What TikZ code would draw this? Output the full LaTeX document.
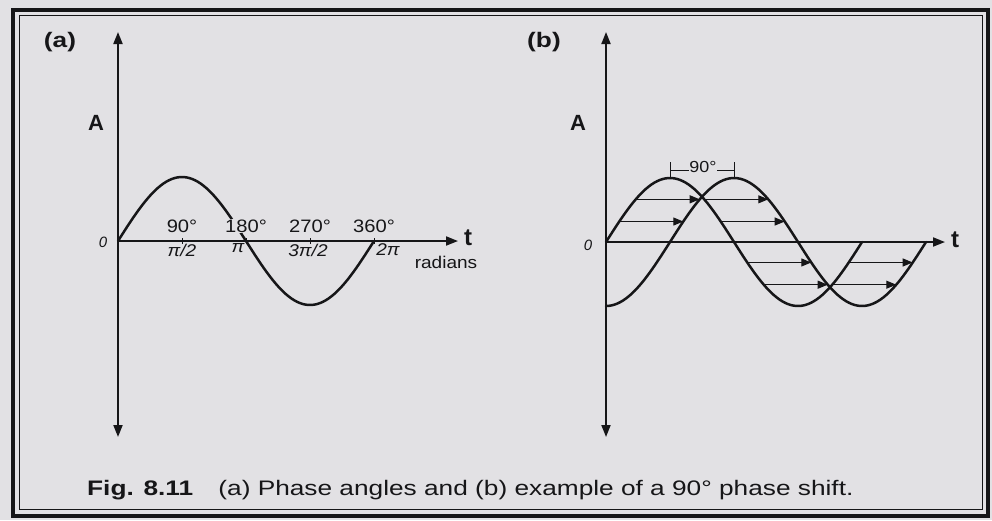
\documentclass[tikz,border=0pt]{standalone}
\usepackage{amsmath}
\usepackage{fontspec}
\setmainfont{Liberation Sans}
\newfontfamily\capfont{Liberation Sans}[FakeStretch=1.25]
\newfontfamily\lblfont{Liberation Sans}[FakeStretch=1.12]
\usepackage{xcolor}
\usetikzlibrary{positioning, arrows.meta}

\definecolor{paper}{RGB}{226,225,228}
\definecolor{ink}{RGB}{22,22,24}

\begin{document}
\begin{tikzpicture}[x=1pt, y=-1pt,
  every node/.style={inner sep=1pt, text=ink},
  axis/.style={ink, line width=1.8pt, -{Triangle[length=12pt, width=9pt]}},
  axisboth/.style={axis, {Triangle[length=12pt, width=9pt]}-{Triangle[length=12pt, width=9pt]}},
  wave/.style={ink, line width=2.5pt, line cap=round},
  tick/.style={ink, line width=1pt},
  shiftarrow/.style={ink, line width=1.1pt, -{Triangle[length=10pt, width=8pt]}},
  deg/.style={font=\lblfont\fontsize{18}{18}\selectfont, fill=paper, inner sep=0.5pt},
  rad/.style={font=\lblfont\fontsize{17}{17}\selectfont\itshape, inner sep=0.5pt},
  panel/.style={font=\capfont\fontsize{21}{21}\selectfont\bfseries},
  amp/.style={font=\fontsize{22}{22}\selectfont\bfseries},
  origin/.style={font=\fontsize{15}{15}\selectfont\itshape},
  tlab/.style={font=\fontsize{24}{24}\selectfont\bfseries}
]
\useasboundingbox (0,0) rectangle (992,520);
\fill[paper] (0,0) rectangle (992,520);

% frame
\draw[ink, line width=4pt] (12.5,9.5) rectangle (988,516);
\draw[ink, line width=0.8pt] (19.5,15.5) rectangle (982,509.5);

% (a) phase angles
\coordinate (aO) at (118,241);
\coordinate (aTop) at (118,32);
\coordinate (aBot) at (118,437);
\coordinate (aEnd) at (458,241);
\draw[axisboth] (aBot) -- (aTop);
\draw[axis] (aO) -- (aEnd);
\draw[wave] plot[domain=0:360, samples=91, smooth] ({118+\x/360*256}, {241-64*sin(\x)});

\foreach \k in {1,...,4} {
  \coordinate (tk\k) at ({118+64*\k},241);
  \draw[tick] ([yshift=3pt]tk\k) -- ([yshift=-3pt]tk\k);
}

\node[panel] (labA) at (60,42) {(a)};
\node[amp] (ampA) at (96,123) {A};
\node[origin] (zeroA) at (103,242) {0};
\node[tlab] (tA) at (468,238) {t};
\node[rad, font=\lblfont\fontsize{17}{17}\selectfont] (radA) at (446,262) {radians};

% degrees above, radians below
\node[deg, above=8pt of tk1] (d90) {90°};
\node[deg, above=8pt of tk2] (d180) {180°};
\node[deg, above=8pt of tk3] (d270) {270°};
\node[deg, above=8pt of tk4] (d360) {360°};
\node[rad, below=2pt of tk1] (r1) {π/2};
\node[rad, below=2pt of tk2, xshift=-8pt] (r2) {π};
\node[rad, below=2pt of tk3, xshift=-2pt] (r3) {3π/2};
\node[rad, below=2pt of tk4, xshift=14pt] (r4) {2π};

% (b) 90 degree phase shift
\coordinate (bO) at (606,242);
\coordinate (bTop) at (606,32);
\coordinate (bBot) at (606,437);
\coordinate (bEnd) at (945,242);
\draw[axisboth] (bBot) -- (bTop);
\draw[axis] (bO) -- (bEnd);
\draw[wave] plot[domain=0:360, samples=91, smooth] ({606+\x/360*256}, {242-64*sin(\x)});
\draw[wave] plot[domain=0:450, samples=113, smooth] ({606+\x/360*256}, {242+64*cos(\x)});

\foreach \t/\a in {41.8/0.667, 138.2/0.667, 18.7/0.32, 161.3/0.32,
                   198.7/-0.32, 341.3/-0.32, 221.8/-0.667, 318.2/-0.667}
  \draw[shiftarrow] ({606+\t/360*256}, {242-64*\a}) -- ++(64,0);

\node[panel] (labB) at (544,42) {(b)};
\node[amp] (ampB) at (578,123) {A};
\node[origin] (zeroB) at (588,245) {0};
\node[tlab] (tB) at (955,240) {t};

\coordinate (pk1) at (670,170);
\coordinate (pk2) at (734,170);
\node[deg, font=\lblfont\fontsize{16}{16}\selectfont] (lag) at (703,167) {90°};
\draw[tick] ([yshift=8pt]pk1) -- ([yshift=-7pt]pk1);
\draw[tick] ([yshift=8pt]pk2) -- ([yshift=-7pt]pk2);
\draw[tick] (pk1) -- (lag.west |- pk1);
\draw[tick] (lag.east |- pk2) -- (pk2);

% caption
\node[anchor=base west, font=\capfont\fontsize{21}{22}\selectfont] (cap) at (86,495)
  {\textbf{Fig. 8.11}\hspace{1.2em}(a) Phase angles and (b) example of a 90° phase shift.};

\end{tikzpicture}
\end{document}
